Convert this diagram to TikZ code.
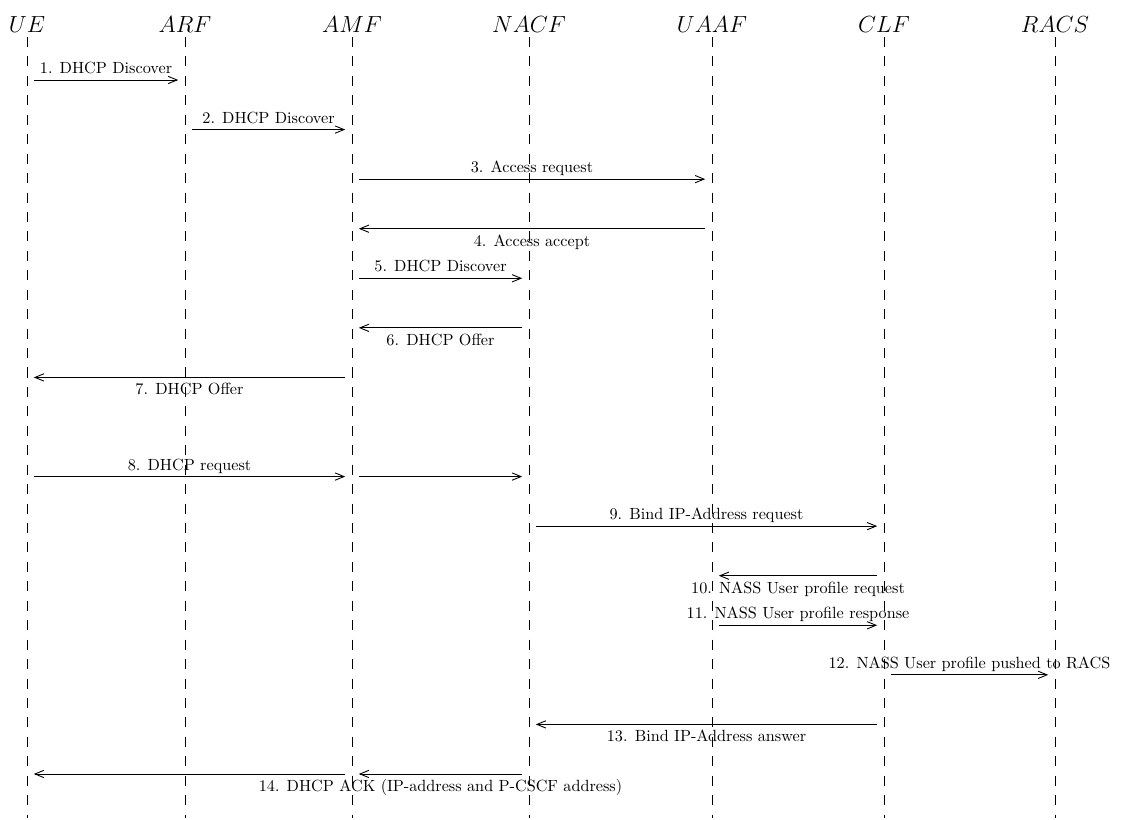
\documentclass[tikz,border=0pt]{standalone}
\usetikzlibrary{arrows.meta}
\begin{document}
\begin{tikzpicture}[x=0.6173pt,y=-0.6173pt,
  lifeline/.style={line width=0.4pt, dash pattern=on 6.2pt off 5.8pt},
  msg/.style={-{Straight Barb[length=5.5pt,width=4.5pt]}, line width=0.55pt, shorten <=4.2pt, shorten >=4.2pt},
  hdr/.style={font=\Large, inner sep=0pt, anchor=base},
  lblup/.style={font=\normalsize, inner sep=0pt, anchor=base, yshift=4pt},
  lbldn/.style={font=\normalsize, inner sep=0pt, anchor=base, yshift=-10.8pt}]
\useasboundingbox (0,0) rectangle (1126,820);
% headers
\node[hdr] (UE) at (27,32) {$UE$};
\node[hdr] (ARF) at (185,32) {$ARF$};
\node[hdr] (AMF) at (352,32) {$AMF$};
\node[hdr] (NACF) at (529,32) {$NACF$};
\node[hdr] (UAAF) at (712,32) {$UAAF$};
\node[hdr] (CLF) at (884,32) {$CLF$};
\node[hdr] (RACS) at (1055,32) {$RACS$};
% lifelines
\foreach \n/\x in {UE/27,ARF/185,AMF/352,NACF/529,UAAF/712,CLF/884,RACS/1055}{
  \coordinate (\n-top) at (\x,37);
  \coordinate (\n-bot) at (\x,818);
  \draw[lifeline] (\n-top) -- (\n-bot);
  \foreach \k in {1,...,15}{
    \coordinate (\n-\k) at (\x,{80+49.57*(\k-1)});
  }
}
% messages
\draw[msg] (UE-1) -- node[midway,lblup] (l1) {1. DHCP Discover} (ARF-1);
\draw[msg] (ARF-2) -- node[midway,lblup] (l2) {2. DHCP Discover} (AMF-2);
\draw[msg] (AMF-3) -- node[midway,lblup] (l3) {3. Access request} (UAAF-3);
\draw[msg] (UAAF-4) -- node[midway,lbldn] (l4) {4. Access accept} (AMF-4);
\draw[msg] (AMF-5) -- node[midway,lblup] (l5) {5. DHCP Discover} (NACF-5);
\draw[msg] (NACF-6) -- node[midway,lbldn] (l6) {6. DHCP Offer} (AMF-6);
\draw[msg] (AMF-7) -- node[midway,lbldn] (l7) {7. DHCP Offer} (UE-7);
\draw[msg] (UE-9) -- node[midway,lblup] (l8) {8. DHCP request} (AMF-9);
\draw[msg] (AMF-9) -- (NACF-9);
\draw[msg] (NACF-10) -- node[midway,lblup] (l9) {9. Bind IP-Address request} (CLF-10);
\draw[msg] (CLF-11) -- node[midway,lbldn] (l10) {10. NASS User profile request} (UAAF-11);
\draw[msg] (UAAF-12) -- node[midway,lblup] (l11) {11. NASS User profile response} (CLF-12);
\draw[msg] (CLF-13) -- node[midway,lblup] (l12) {12. NASS User profile pushed to RACS} (RACS-13);
\draw[msg] (CLF-14) -- node[midway,lbldn] (l13) {13. Bind IP-Address answer} (NACF-14);
\draw[msg] (NACF-15) -- node[midway,lbldn] (l14) {14. DHCP ACK (IP-address and P-CSCF address)} (AMF-15);
\draw[msg] (AMF-15) -- (UE-15);
\end{tikzpicture}
\end{document}
